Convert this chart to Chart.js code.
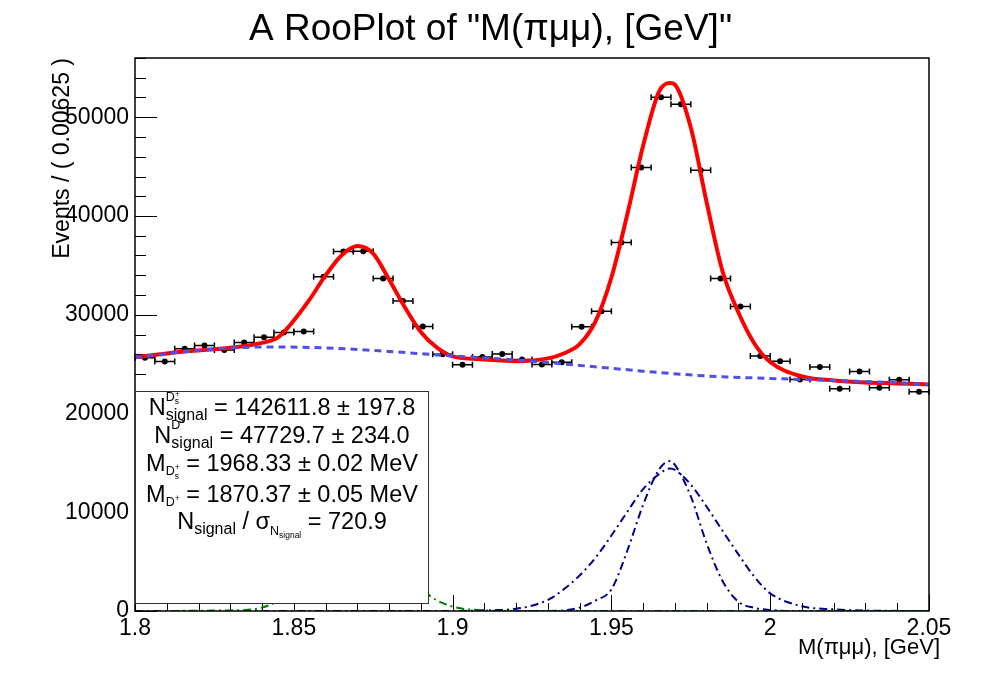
<!DOCTYPE html>
<html>
<head>
<meta charset="utf-8">
<script src="https://cdn.jsdelivr.net/npm/chart.js@4/dist/chart.umd.min.js"></script>
<style>
html, body { margin: 0; padding: 0; background: #fff; }
canvas { display: block; }
</style>
</head>
<body>
<canvas id="grafico" width="981" height="676"></canvas>
<script>
// binned data: M(pi mu mu) in GeV, 40 bins of 0.00625
const binCenters = [1.803125, 1.809375, 1.815625, 1.821875, 1.828125, 1.834375, 1.840625, 1.846875,
	1.853125, 1.859375, 1.865625, 1.871875, 1.878125, 1.884375, 1.890625, 1.896875,
	1.903125, 1.909375, 1.915625, 1.921875, 1.928125, 1.934375, 1.940625, 1.946875,
	1.953125, 1.959375, 1.965625, 1.971875, 1.978125, 1.984375, 1.990625, 1.996875,
	2.003125, 2.009375, 2.015625, 2.021875, 2.028125, 2.034375, 2.040625, 2.046875];
const binWidth = 0.00625;
const events = [25650, 25270, 26560, 26890, 26420, 27200, 27730, 28210,
	28310, 33850, 36410, 36420, 33670, 31380, 28820, 26010,
	24940, 25710, 26030, 25480, 24950, 25200, 28790, 30360,
	37320, 44910, 52020, 51320, 44640, 33670, 30840, 25830,
	25300, 23450, 24700, 22510, 24260, 22610, 23420, 22190];

// total fit (red)
const totalX = [1.80, 1.81, 1.82, 1.83, 1.84, 1.845, 1.85, 1.855, 1.86, 1.865, 1.87, 1.875, 1.88, 1.885, 1.89, 1.895,
	1.90, 1.91, 1.92, 1.93, 1.935, 1.94, 1.945, 1.95, 1.955, 1.96, 1.965, 1.9685, 1.97, 1.975, 1.98, 1.985,
	1.99, 1.995, 2.00, 2.01, 2.02, 2.03, 2.04, 2.05];
const totalY = [25680, 26080, 26390, 26660, 27150, 27700, 29420, 31550, 33980, 36000, 36960, 36200, 33570, 30740, 28260, 26690,
	25780, 25480, 25300, 25580, 26080, 27020, 29320, 33770, 40150, 47130, 52600, 53480, 53310, 48960, 41370, 34380,
	30230, 27090, 25210, 23750, 23350, 23150, 23050, 22940];

// background (blue dashed)
const bkgX = [1.80, 1.82, 1.84, 1.86, 1.88, 1.90, 1.92, 1.94, 1.96, 1.98, 2.00, 2.02, 2.04, 2.05];
const bkgY = [25680, 26390, 26740, 26640, 26280, 25830, 25420, 24870, 24290, 23800, 23550, 23350, 23100, 22940];

// Ds+ signal components (dash-dot)
const dsWideX = [1.80, 1.90, 1.91, 1.92, 1.93, 1.935, 1.94, 1.945, 1.95, 1.955, 1.96, 1.965, 1.9685, 1.97,
	1.975, 1.98, 1.985, 1.99, 1.995, 2.00, 2.01, 2.02, 2.03, 2.05];
const dsWideY = [0, 0, 70, 220, 1120, 2200, 3600, 5400, 7640, 10040, 12350, 13860, 14440, 14290,
	12800, 10560, 8120, 5730, 3470, 1790, 480, 170, 50, 0];
const dsNarrowX = [1.80, 1.93, 1.94, 1.945, 1.95, 1.955, 1.96, 1.965, 1.9685, 1.97, 1.975, 1.98,
	1.985, 1.99, 1.995, 2.00, 2.01, 2.05];
const dsNarrowY = [0, 0, 340, 1060, 2190, 6100, 10760, 14330, 15180, 14790, 11610, 6830,
	3040, 930, 320, 100, 0, 0];

// D+ signal component (green dash-dot, mostly behind the box)
const dplusX = [1.80, 1.83, 1.84, 1.85, 1.86, 1.87, 1.88, 1.89, 1.893, 1.90, 1.91, 1.92, 2.05];
const dplusY = [0, 60, 350, 2000, 5000, 6500, 5000, 2500, 1500, 450, 60, 0, 0];

const xTicks = [1.8, 1.85, 1.9, 1.95, 2.0, 2.05];
const xTickLabels = ['1.8', '1.85', '1.9', '1.95', '2', '2.05'];
const yTicks = [0, 10000, 20000, 30000, 40000, 50000];
const yTickLabels = ['0', '10000', '20000', '30000', '40000', '50000'];

const FONT = '"Liberation Sans", Arial, Helvetica, sans-serif';
Chart.defaults.font.family = FONT;
Chart.defaults.color = '#000';

const plotTitle = 'A RooPlot of "M(\u03c0\u03bc\u03bc), [GeV]"';

// fit result box, each line is a list of text pieces
const fitLines = [
	{ base: 415, segs: [
		{ t: 'N', s: 23.5, dy: 0 },
		{ t: 'D', s: 12.5, dy: -14 },
		{ t: 's', s: 8.5, dy: -11 },
		{ t: '+', s: 8.5, dy: -18, at: 2 },
		{ t: 'signal', s: 16, dy: 5, at: 1 },
		{ t: ' = 142611.8 \u00b1 197.8', s: 23.5, dy: 0 }
	] },
	{ base: 443, segs: [
		{ t: 'N', s: 23.5, dy: 0 },
		{ t: 'D', s: 12.5, dy: -14 },
		{ t: '+', s: 8.5, dy: -19 },
		{ t: 'signal', s: 16, dy: 5, at: 1 },
		{ t: ' = 47729.7 \u00b1 234.0', s: 23.5, dy: 0 }
	] },
	{ base: 471, segs: [
		{ t: 'M', s: 23.5, dy: 0 },
		{ t: 'D', s: 12.5, dy: 4 },
		{ t: 's', s: 8.5, dy: 8 },
		{ t: '+', s: 8.5, dy: -1, at: 2 },
		{ t: ' = 1968.33 \u00b1 0.02 MeV', s: 23.5, dy: 0 }
	] },
	{ base: 502, segs: [
		{ t: 'M', s: 23.5, dy: 0 },
		{ t: 'D', s: 12.5, dy: 4 },
		{ t: '+', s: 8.5, dy: -1 },
		{ t: ' = 1870.37 \u00b1 0.05 MeV', s: 23.5, dy: 0 }
	] },
	{ base: 529, segs: [
		{ t: 'N', s: 23.5, dy: 0 },
		{ t: 'signal', s: 16, dy: 5 },
		{ t: ' / ', s: 23.5, dy: 0 },
		{ t: '\u03c3', s: 23.5, dy: 0 },
		{ t: 'N', s: 12.5, dy: 6 },
		{ t: 'signal', s: 8.5, dy: 9 },
		{ t: ' = 720.9', s: 23.5, dy: 0 }
	] }
];

function pts(xs, ys) {
	return xs.map((x, i) => ({ x: x, y: ys[i] }));
}

function drawRich(ctx, segs, cx, base) {
	let cursor = 0;
	const starts = [];
	const placed = segs.map((sg, i) => {
		ctx.font = sg.s + 'px ' + FONT;
		const w = ctx.measureText(sg.t).width;
		const x0 = sg.at != null ? starts[sg.at] : cursor;
		starts[i] = x0;
		cursor = Math.max(cursor, x0 + w);
		return { sg: sg, x0: x0 };
	});
	const left = cx - cursor / 2;
	ctx.textAlign = 'left';
	ctx.textBaseline = 'alphabetic';
	placed.forEach(p => {
		ctx.font = p.sg.s + 'px ' + FONT;
		ctx.fillText(p.sg.t, left + p.x0, base + p.sg.dy);
	});
}

const rooPlot = {
	id: 'rooPlot',
	beforeDatasetsDraw(chart) {
		const { ctx, chartArea: a, scales: { x, y } } = chart;
		ctx.save();
		ctx.strokeStyle = '#000';
		ctx.lineWidth = 1;
		// inner ticks, y axis
		for (let v = 0; v <= 56000; v += 2000) {
			const py = Math.round(y.getPixelForValue(v)) + 0.5;
			const len = v % 10000 === 0 ? 22 : 11;
			ctx.beginPath();
			ctx.moveTo(a.left, py);
			ctx.lineTo(a.left + len, py);
			ctx.stroke();
		}
		// inner ticks, x axis
		for (let k = 0; k <= 25; k++) {
			const px = Math.round(x.getPixelForValue(1.8 + k * 0.01)) + 0.5;
			const len = k % 5 === 0 ? 16 : 8;
			ctx.beginPath();
			ctx.moveTo(px, a.bottom);
			ctx.lineTo(px, a.bottom - len);
			ctx.stroke();
		}
		// horizontal error bars of the data
		ctx.lineWidth = 1.5;
		binCenters.forEach((c, i) => {
			const xl = x.getPixelForValue(c - binWidth / 2);
			const xr = x.getPixelForValue(c + binWidth / 2);
			const py = y.getPixelForValue(events[i]);
			ctx.beginPath();
			ctx.moveTo(xl, py);
			ctx.lineTo(xr, py);
			ctx.moveTo(xl, py - 3);
			ctx.lineTo(xl, py + 3);
			ctx.moveTo(xr, py - 3);
			ctx.lineTo(xr, py + 3);
			ctx.stroke();
		});
		ctx.restore();
	},
	afterDatasetsDraw(chart) {
		const { ctx, chartArea: a } = chart;
		ctx.save();
		// frame
		ctx.strokeStyle = '#000';
		ctx.lineWidth = 1.5;
		ctx.strokeRect(a.left, a.top, a.right - a.left, a.bottom - a.top);
		// fit result box
		ctx.fillStyle = '#fff';
		ctx.fillRect(a.left, 391, 293, 212);
		ctx.lineWidth = 1;
		ctx.strokeStyle = '#333';
		ctx.strokeRect(a.left + 0.5, 391.5, 293, 212);
		ctx.fillStyle = '#000';
		fitLines.forEach(l => drawRich(ctx, l.segs, a.left + 147, l.base));
		// title, centred on the whole canvas
		ctx.font = '37px ' + FONT;
		ctx.textAlign = 'center';
		ctx.textBaseline = 'alphabetic';
		ctx.fillText(plotTitle, chart.width / 2, 40);
		// axis titles
		ctx.font = '22px ' + FONT;
		ctx.textAlign = 'right';
		ctx.fillText('M(\u03c0\u03bc\u03bc), [GeV]', 940, 654);
		ctx.translate(69, a.top);
		ctx.rotate(-Math.PI / 2);
		ctx.font = '23px ' + FONT;
		ctx.fillText('Events / ( 0.00625 )', 0, 0);
		ctx.restore();
	}
};

const curve = (data, color, width, dash, order) => ({
	data: data,
	showLine: true,
	borderColor: color,
	borderWidth: width,
	borderDash: dash,
	pointRadius: 0,
	cubicInterpolationMode: 'monotone',
	order: order
});

const ctx = document.getElementById('grafico').getContext('2d');
new Chart(ctx, {
	type: 'scatter',
	data: {
		datasets: [
			curve(pts(dplusX, dplusY), '#008000', 2, [8, 4, 2, 4], 1),
			curve(pts(dsNarrowX, dsNarrowY), '#00008b', 2, [8, 4, 2, 4], 2),
			curve(pts(dsWideX, dsWideY), '#00008b', 2, [8, 4, 2, 4], 3),
			curve(pts(bkgX, bkgY), 'rgb(80,80,230)', 3, [7, 5], 4),
			curve(pts(totalX, totalY), '#ff0000', 4, [], 5),
			{
				data: pts(binCenters, events),
				pointRadius: 3,
				pointBackgroundColor: '#000',
				pointBorderColor: '#000',
				pointBorderWidth: 0,
				order: 6
			}
		]
	},
	options: {
		responsive: false,
		animation: false,
		devicePixelRatio: 1,
		layout: { padding: { left: 0, right: 52, top: 58, bottom: 0 } },
		plugins: {
			legend: { display: false },
			tooltip: { enabled: false },
			title: { display: false }
		},
		scales: {
			x: {
				type: 'linear',
				min: 1.8,
				max: 2.05,
				grid: { display: false, drawTicks: false },
				border: { display: false },
				afterBuildTicks: s => { s.ticks = xTicks.map(v => ({ value: v })); },
				afterFit: s => { s.height = 65; },
				ticks: {
					font: { size: 23 },
					color: '#000',
					padding: 4,
					autoSkip: false,
					maxRotation: 0,
					callback: v => xTickLabels[xTicks.indexOf(v)]
				}
			},
			y: {
				min: 0,
				max: 56000,
				grid: { display: false, drawTicks: false },
				border: { display: false },
				afterBuildTicks: s => { s.ticks = yTicks.map(v => ({ value: v })); },
				afterFit: s => { s.width = 135; },
				ticks: {
					font: { size: 23 },
					color: '#000',
					padding: 6,
					callback: v => yTickLabels[yTicks.indexOf(v)]
				}
			}
		}
	},
	plugins: [rooPlot]
});
</script>
</body>
</html>
